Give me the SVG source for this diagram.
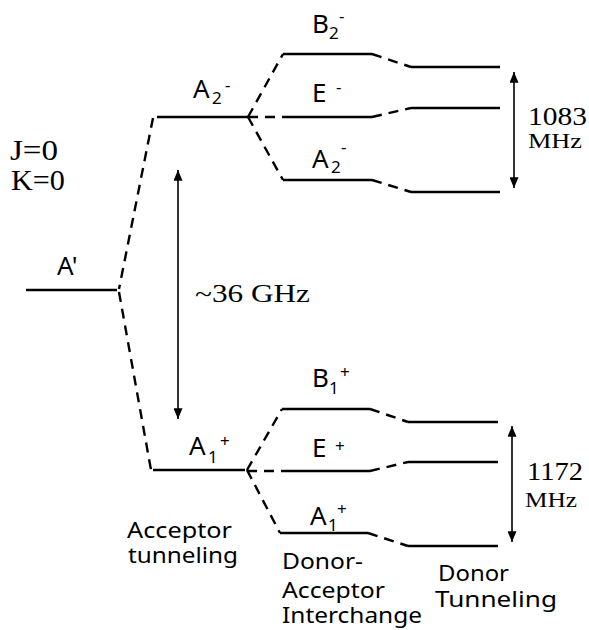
<svg xmlns="http://www.w3.org/2000/svg" width="589" height="630" viewBox="0 0 589 630">
<style>
.lvl{stroke:#000;stroke-width:2.5;fill:none}
.dash{stroke:#000;stroke-width:2.4;fill:none;stroke-dasharray:10 7}
.arr{stroke:#000;stroke-width:1.6;fill:none;marker-start:url(#ah);marker-end:url(#ah)}
.s{font-family:"Noto Sans","DejaVu Sans",sans-serif;fill:#000}
.lab{font-size:26px}
.sub{font-size:17px}
.cap{font-size:22px}
.r{font-family:"Liberation Serif","DejaVu Serif",serif;fill:#000}
</style>
<defs>
<marker id="ah" viewBox="0 0 12 10" refX="12" refY="5" markerWidth="13" markerHeight="9" markerUnits="userSpaceOnUse" orient="auto-start-reverse">
<path d="M0,0 L12,5 L0,10 z" fill="#000"/>
</marker>
</defs>
<rect width="589" height="630" fill="#fff"/>

<g id="quantum-numbers">
<text class="r" x="10" y="160" font-size="29" textLength="48" lengthAdjust="spacingAndGlyphs">J=0</text>
<text class="r" x="11" y="190" font-size="29" textLength="54" lengthAdjust="spacingAndGlyphs">K=0</text>
</g>

<g id="A-prime">
<line class="lvl" x1="26" y1="290" x2="117" y2="290"/>
<text class="s lab" x="57" y="275">A'</text>
</g>

<g id="A2-minus-acceptor">
<line class="lvl" x1="157" y1="117" x2="248" y2="117"/>
<text class="s lab" x="193" y="98">A<tspan class="sub" x="212" y="104">2</tspan><tspan class="sub" x="225" y="91">-</tspan></text>
</g>

<g id="A1-plus-acceptor">
<line class="lvl" x1="153" y1="470" x2="245" y2="470"/>
<text class="s lab" x="189" y="455">A<tspan class="sub" x="208" y="463">1</tspan><tspan class="sub" x="220" y="447">+</tspan></text>
</g>

<g id="B2-minus">
<line class="lvl" x1="283" y1="54" x2="372" y2="54"/>
<text class="s lab" x="312" y="33">B<tspan class="sub" x="329" y="39">2</tspan><tspan class="sub" x="339" y="22">-</tspan></text>
</g>

<g id="E-minus">
<line class="lvl" x1="283" y1="117" x2="372" y2="117"/>
<text class="s lab" x="312" y="102">E<tspan class="sub" x="336" y="93">-</tspan></text>
</g>

<g id="A2-minus-interchange">
<line class="lvl" x1="283" y1="180" x2="372" y2="180"/>
<text class="s lab" x="312" y="168">A<tspan class="sub" x="331" y="173">2</tspan><tspan class="sub" x="341" y="153">-</tspan></text>
</g>

<g id="B1-plus">
<line class="lvl" x1="282" y1="409" x2="370" y2="409"/>
<text class="s lab" x="312" y="387">B<tspan class="sub" x="329" y="394">1</tspan><tspan class="sub" x="340" y="378">+</tspan></text>
</g>

<g id="E-plus">
<line class="lvl" x1="282" y1="471" x2="370" y2="471"/>
<text class="s lab" x="312" y="457">E<tspan class="sub" x="335" y="452">+</tspan></text>
</g>

<g id="A1-plus-interchange">
<line class="lvl" x1="280" y1="533" x2="368" y2="533"/>
<text class="s lab" x="310" y="525">A<tspan class="sub" x="328" y="531">1</tspan><tspan class="sub" x="337" y="515">+</tspan></text>
</g>

<g id="donor-upper">
<line class="lvl" x1="411" y1="67" x2="500" y2="67"/>
<line class="lvl" x1="411" y1="108" x2="500" y2="108"/>
<line class="lvl" x1="411" y1="192" x2="500" y2="192"/>
</g>

<g id="donor-lower">
<line class="lvl" x1="408" y1="422" x2="498" y2="422"/>
<line class="lvl" x1="408" y1="462" x2="498" y2="462"/>
<line class="lvl" x1="408" y1="546" x2="498" y2="546"/>
</g>

<g id="splittings">
<line class="arr" x1="178" y1="170" x2="178" y2="419"/>
<text class="r" x="195" y="302" font-size="26" textLength="115" lengthAdjust="spacingAndGlyphs">~36 GHz</text>
<line class="arr" x1="514" y1="72" x2="514" y2="188"/>
<text class="r" x="528" y="125" font-size="26" textLength="59" lengthAdjust="spacingAndGlyphs">1083</text>
<text class="r" x="528" y="148" font-size="22" textLength="54" lengthAdjust="spacingAndGlyphs">MHz</text>
<line class="arr" x1="512" y1="426" x2="512" y2="542"/>
<text class="r" x="527" y="480" font-size="26" textLength="56" lengthAdjust="spacingAndGlyphs">1172</text>
<text class="r" x="525" y="507" font-size="22" textLength="52" lengthAdjust="spacingAndGlyphs">MHz</text>
</g>

<g id="captions">
<text class="s cap" x="127" y="538" textLength="105" lengthAdjust="spacingAndGlyphs">Acceptor</text>
<text class="s cap" x="128" y="563" textLength="110" lengthAdjust="spacingAndGlyphs">tunneling</text>
<text class="s cap" x="282" y="569" textLength="81" lengthAdjust="spacingAndGlyphs">Donor-</text>
<text class="s cap" x="282" y="598" textLength="103" lengthAdjust="spacingAndGlyphs">Acceptor</text>
<text class="s cap" x="282" y="623" textLength="140" lengthAdjust="spacingAndGlyphs">Interchange</text>
<text class="s cap" x="438" y="581" textLength="71" lengthAdjust="spacingAndGlyphs">Donor</text>
<text class="s cap" x="435" y="607" textLength="122" lengthAdjust="spacingAndGlyphs">Tunneling</text>
</g>

<g id="connectors">
<line class="dash" x1="153" y1="118" x2="119" y2="289"/>
<line class="dash" x1="119" y1="292" x2="151" y2="470"/>
<line class="dash" x1="248" y1="117" x2="283" y2="54"/>
<line class="dash" x1="248" y1="117" x2="283" y2="117"/>
<line class="dash" x1="248" y1="117" x2="283" y2="180"/>
<line class="dash" x1="247" y1="470" x2="282" y2="409"/>
<line class="dash" x1="247" y1="471" x2="282" y2="471"/>
<line class="dash" x1="247" y1="470" x2="280" y2="533"/>
<line class="dash" x1="372" y1="54" x2="411" y2="67"/>
<line class="dash" x1="372" y1="117" x2="411" y2="108"/>
<line class="dash" x1="372" y1="180" x2="411" y2="192"/>
<line class="dash" x1="370" y1="409" x2="408" y2="422"/>
<line class="dash" x1="370" y1="471" x2="408" y2="462"/>
<line class="dash" x1="368" y1="533" x2="408" y2="546"/>
</g>
</svg>
